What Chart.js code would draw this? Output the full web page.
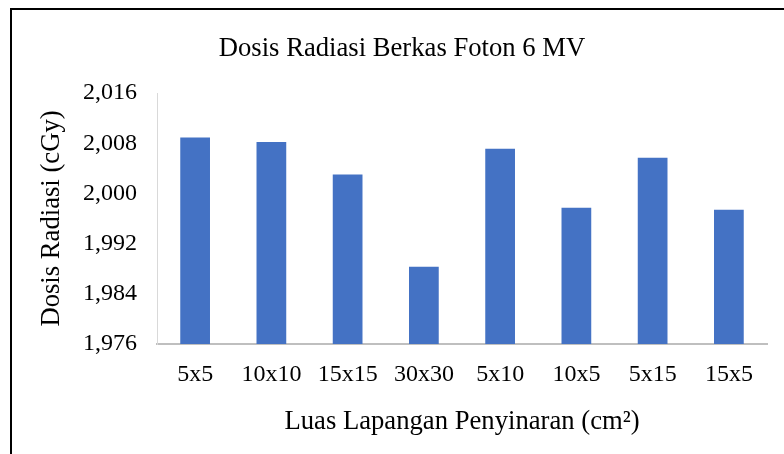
<!DOCTYPE html>
<html>
<head>
<meta charset="utf-8">
<script src="https://cdn.jsdelivr.net/npm/chart.js@4.4.1/dist/chart.umd.min.js"></script>
<style>
  html, body { margin: 0; padding: 0; background: #fff; overflow: hidden; }
  #wrap { position: relative; width: 784px; height: 454px; }
  #frame { position: absolute; left: 10px; top: 8px; width: 800px; height: 470px;
           border-left: 2px solid #000; border-top: 2px solid #000; pointer-events: none; }
</style>
</head>
<body>
<div id="wrap">
  <canvas id="c" width="784" height="454"></canvas>
  <div id="frame"></div>
</div>
<script>
const categories = ['5x5', '10x10', '15x15', '30x30', '5x10', '10x5', '5x15', '15x5'];
const doseValues = [2008.9, 2008.2, 2003.0, 1988.3, 2007.1, 1997.7, 2005.7, 1997.4];
const yMin = 1976;
const yMax = 2016;
const yStep = 8;
const chartTitle = 'Dosis Radiasi Berkas Foton 6 MV';
const xTitle = 'Luas Lapangan Penyinaran (cm\u00B2)';
const yTitle = 'Dosis Radiasi (cGy)';

const FONT = "'Liberation Serif', 'Times New Roman', serif";

new Chart(document.getElementById('c'), {
  type: 'bar',
  data: {
    labels: categories,
    datasets: [{
      data: doseValues,
      backgroundColor: '#4472C4',
      borderWidth: 0,
      barPercentage: 0.39,
      categoryPercentage: 1.0
    }]
  },
  options: {
    responsive: false,
    animation: false,
    devicePixelRatio: 1,
    layout: { padding: { left: 37, right: 17, top: 10, bottom: 16 } },
    plugins: {
      legend: { display: false },
      tooltip: { enabled: false },
      title: {
        display: true,
        text: chartTitle,
        color: '#000',
        font: { family: FONT, size: 26.67, weight: 'normal', lineHeight: 1.2 },
        padding: { top: 23, bottom: 28 }
      }
    },
    scales: {
      x: {
        grid: { display: false, drawTicks: false },
        border: { display: true, color: '#bfbfbf', width: 2 },
        afterFit: (s) => { s.height = 94; },
        ticks: {
          color: '#000',
          padding: 16,
          font: { family: FONT, size: 24, lineHeight: 1.2 },
          maxRotation: 0
        },
        title: {
          display: true,
          text: xTitle,
          color: '#000',
          font: { family: FONT, size: 26.67, lineHeight: 1.2 },
          padding: { top: 15, bottom: 0 }
        }
      },
      y: {
        min: yMin,
        max: yMax,
        grid: { display: false, drawTicks: false },
        border: { display: true, color: '#d9d9d9', width: 1 },
        afterFit: (s) => { s.width = 120; },
        ticks: {
          stepSize: yStep,
          color: '#000',
          padding: 20,
          font: { family: FONT, size: 24 },
          callback: (v) => Number(v).toLocaleString('en-US')
        },
        title: {
          display: true,
          text: yTitle,
          color: '#000',
          font: { family: FONT, size: 26.67, lineHeight: 1.1 },
          padding: { top: 0, bottom: 0 }
        }
      }
    }
  }
});
</script>
</body>
</html>
